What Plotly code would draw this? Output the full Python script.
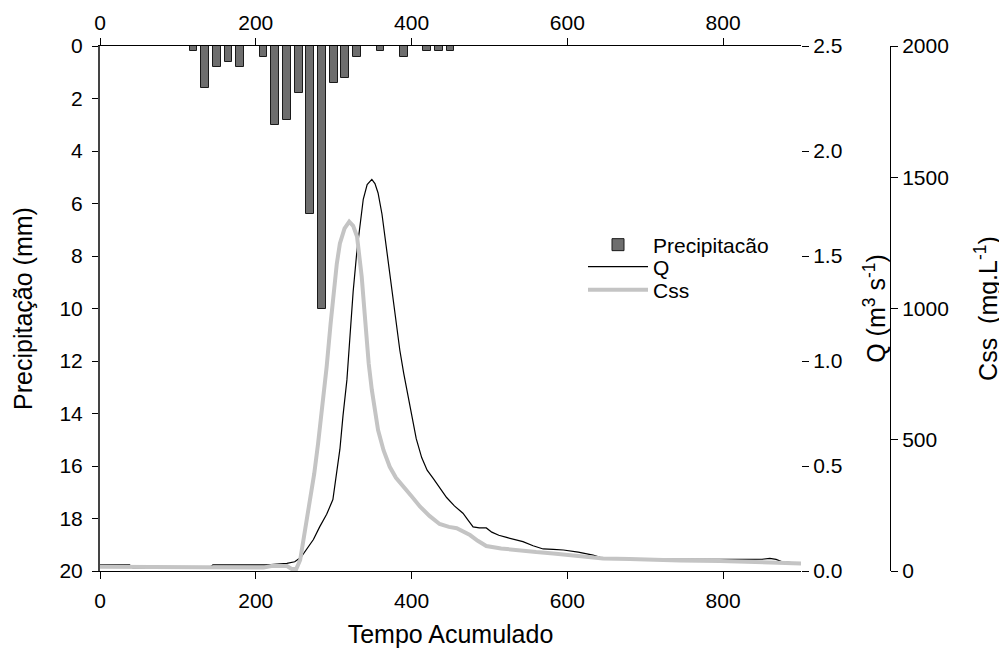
import plotly.graph_objects as go

# ---------------- data ----------------
bar_t = [120, 135, 150, 165, 180, 210, 225, 240, 255, 270, 285, 300, 315, 330, 360, 390, 420, 435, 450]
precip = [0.2, 1.6, 0.8, 0.6, 0.8, 0.4, 3.0, 2.8, 1.8, 6.4, 10.0, 1.4, 1.2, 0.4, 0.2, 0.4, 0.2, 0.2, 0.2]

q_t = [0, 38, 42, 140, 145, 215, 240, 250, 258, 265, 274, 282, 291, 299, 304, 308, 312, 317, 321, 325,
       330, 334, 338, 343, 349, 353, 357, 362, 366, 371, 376, 381, 385, 390, 394, 400, 406, 413, 420,
       428, 436, 445, 455, 466, 473, 479, 487, 496, 503, 512, 522, 533, 543, 556, 569, 582, 595, 614,
       633, 642, 660, 700, 740, 776, 820, 850, 860, 868, 875, 900]
q_v = [0.029, 0.029, 0.015, 0.015, 0.029, 0.029, 0.036, 0.044, 0.065, 0.10, 0.15, 0.21, 0.27, 0.34, 0.47,
       0.58, 0.74, 0.91, 1.12, 1.33, 1.53, 1.66, 1.77, 1.84, 1.865, 1.845, 1.80, 1.70, 1.59, 1.45, 1.29,
       1.16, 1.05, 0.94, 0.86, 0.74, 0.63, 0.54, 0.48, 0.44, 0.40, 0.35, 0.31, 0.275, 0.24, 0.21, 0.205,
       0.205, 0.185, 0.17, 0.16, 0.15, 0.14, 0.12, 0.105, 0.103, 0.10, 0.09, 0.076, 0.065, 0.058, 0.055,
       0.055, 0.056, 0.056, 0.056, 0.06, 0.055, 0.045, 0.035]

css_t = [0, 48, 52, 210, 220, 240, 246, 252, 257, 263, 270, 275, 280, 286, 291, 296, 300, 304, 308, 314,
         320, 325, 330, 333, 336, 339, 342, 345, 349, 353, 357, 364, 372, 380, 389, 400, 411, 423, 436,
         448, 458, 466, 475, 485, 496, 515, 539, 560, 582, 610, 646, 680, 710, 745, 796, 873, 900]
css_v = [16, 16, 12.6, 13, 19, 19, 8, 8, 42, 150, 270, 370, 486, 630, 778, 940, 1070, 1170, 1248, 1305,
         1331, 1315, 1274, 1210, 1121, 1010, 893, 790, 690, 605, 537, 460, 397, 355, 321, 285, 245, 210,
         179, 168, 163, 152, 137, 115, 95, 86, 77, 72, 67, 58, 48, 46, 45, 40, 38, 34, 29]

x_ticks = [0, 200, 400, 600, 800]
precip_ticks = [0, 2, 4, 6, 8, 10, 12, 14, 16, 18, 20]
q_ticks = [0.0, 0.5, 1.0, 1.5, 2.0, 2.5]
q_ticktext = ["0.0", "0.5", "1.0", "1.5", "2.0", "2.5"]
css_ticks = [0, 500, 1000, 1500, 2000]

# ---------------- figure ----------------
FONT = "Arial, Liberation Sans, sans-serif"
TICKF = dict(family=FONT, size=21, color="black")
TITLEF = dict(family=FONT, size=25, color="black")
LEGF = dict(family=FONT, size=21, color="black")

OFF = 8  # page body margin
W, H = 1007, 650
ML = 100 - OFF
MT = 46 - OFF
MB = H - (571 - OFF)
MR = 6
pw = W - ML - MR
ph = H - MT - MB
dx = (801 - OFF - ML) / pw
css_pos = (890 - OFF - ML) / pw


def lx(page_x):
    return (page_x - OFF - ML) / pw


def ly(page_y):
    return (H - MB - (page_y - OFF)) / ph


fig = go.Figure()
fig.add_trace(go.Bar(x=bar_t, y=precip, xaxis="x", yaxis="y", width=10,
                     marker=dict(color="#6e6e6e", line=dict(color="#1a1a1a", width=1)),
                     name="Precipitacão", legend="legend"))
fig.add_trace(go.Scatter(x=q_t, y=q_v, xaxis="x", yaxis="y2", mode="lines",
                         line=dict(color="black", width=1.2), name="Q", legend="legend2"))
fig.add_trace(go.Scatter(x=css_t, y=css_v, xaxis="x", yaxis="y3", mode="lines",
                         line=dict(color="#c4c4c4", width=4), name="Css", legend="legend3"))
# invisible trace so the top axis gets its own subplot
fig.add_trace(go.Scatter(x=[None], y=[None], xaxis="x2", yaxis="y", mode="lines",
                         showlegend=False, hoverinfo="skip"))

common_x = dict(range=[0, 900], tickvals=x_ticks, ticks="outside", ticklen=7, tickcolor="black",
                showline=True, linecolor="black", linewidth=1, showgrid=False, zeroline=False,
                tickfont=TICKF, automargin=False)

leg_common = dict(xanchor="left", yanchor="middle", bgcolor="rgba(0,0,0,0)", font=LEGF,
                  itemwidth=60, borderwidth=0)

fig.update_layout(
    width=W, height=H,
    margin=dict(l=ML, r=MR, t=MT, b=MB),
    paper_bgcolor="white", plot_bgcolor="white",
    font=dict(family=FONT, color="black"),
    bargap=0,
    xaxis=dict(domain=[0, dx], anchor="y", side="bottom", ticklabelstandoff=4,
               title=dict(text="Tempo Acumulado", font=TITLEF, standoff=14), **common_x),
    xaxis2=dict(overlaying="x", anchor="y", side="top", **common_x),
    yaxis=dict(domain=[0, 1], range=[20, 0], tickvals=precip_ticks, ticks="outside", ticklen=6,
               tickcolor="black", showline=True, linecolor="#444444", linewidth=2,
               ticklabelstandoff=5,
               showgrid=False, zeroline=False, tickfont=TICKF, automargin=False,
               title=dict(text="Precipitação (mm)", font=TITLEF, standoff=20)),
    yaxis2=dict(overlaying="y", side="right", anchor="x", range=[0, 2.5], tickvals=q_ticks,
                ticktext=q_ticktext, ticks="outside", ticklen=7, tickcolor="black",
                showline=False, showgrid=False, zeroline=False, tickfont=TICKF, automargin=False,
                title=dict(text="Q (m<sup>3</sup> s<sup>-1</sup>)", font=TITLEF, standoff=26)),
    yaxis3=dict(overlaying="y", side="right", anchor="free", position=css_pos, range=[0, 2000],
                tickvals=css_ticks, ticks="outside", ticklen=7, tickcolor="black",
                showline=True, linecolor="black", linewidth=1, automargin=False,
                showgrid=False, zeroline=False, tickfont=TICKF,
                title=dict(text="Css  (mg.L<sup>-1</sup>)", font=TITLEF, standoff=31)),
    legend=dict(x=lx(583), y=ly(245), **leg_common),
    legend2=dict(x=lx(583), y=ly(267), **leg_common),
    legend3=dict(x=lx(583), y=ly(290), **leg_common),
    showlegend=True,
)

fig.write_html("out.html")
